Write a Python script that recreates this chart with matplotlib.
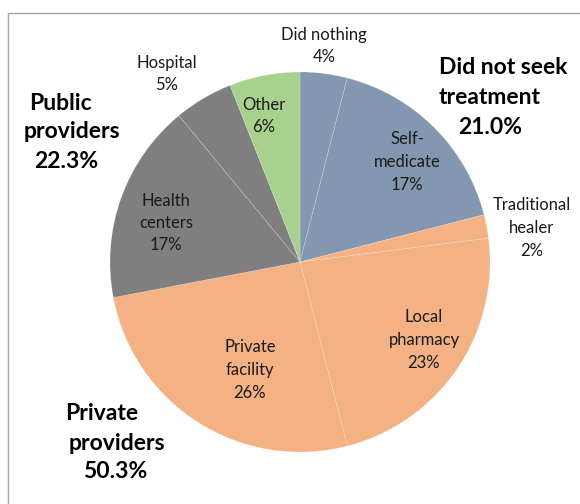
import matplotlib
matplotlib.use("Agg")
import matplotlib.pyplot as plt
from matplotlib.patches import Rectangle

# Care-seeking behaviour, share of respondents (%)
categories = ["Did nothing", "Self-\nmedicate", "Traditional\nhealer", "Local\npharmacy",
              "Private\nfacility", "Health\ncenters", "Hospital", "Other"]
shares = [4, 17, 2, 23, 26, 17, 5, 6]
groups = ["none", "none", "private", "private", "private", "public", "public", "other"]

group_names = ["Did not seek\ntreatment", "Public\nproviders", "Private\nproviders"]
group_shares = [21.0, 22.3, 50.3]

group_colors = {"none": "#8497B0", "private": "#F4B183", "public": "#7F7F7F", "other": "#A9D18E"}

W, H = 580, 504
fig = plt.figure(figsize=(W / 100, H / 100), dpi=100)
plt.rcParams["font.family"] = ["Lato", "DejaVu Sans"]

# outer frame
fig.patches.append(Rectangle((8 / W, -0.1), 1.2, 1 - 13 / H + 0.1, transform=fig.transFigure,
                             fill=False, edgecolor="#A6A6A6", linewidth=1.0))

cx, cy, r = 300, 262, 190
ax = fig.add_axes([(cx - r) / W, 1 - (cy + r) / H, 2 * r / W, 2 * r / H])

ax.pie(shares, colors=[group_colors[g] for g in groups], startangle=90, counterclock=False,
       radius=1.0, center=(0, 0),
       wedgeprops=dict(edgecolor=(1, 1, 1, 0.25), linewidth=0.5))
ax.set_xlim(-1, 1)
ax.set_ylim(-1, 1)
ax.set_aspect("equal")
ax.axis("off")


def P(px, py):
    return (px - cx) / r, (cy - py) / r


# slice labels (pixel positions)
label_pos = [(324, 46), (407, 162), (532, 228), (424, 340),
             (250, 370), (166, 223), (167, 74), (264, 116)]
for name, val, (px, py) in zip(categories, shares, label_pos):
    x, y = P(px, py)
    ax.text(x, y, f"{name}\n{val}%", ha="center", va="center", fontsize=12,
            color="#1a1a1a", linespacing=1.5, clip_on=False)

# group labels
group_lines = [
    [(503, 68), (490, 98), (490, 127)],
    [(60, 103), (72, 132), (66, 161)],
    [(102, 414), (117, 443), (115, 472)],
]
for name, val, lines in zip(group_names, group_shares, group_lines):
    texts = name.split("\n") + [f"{val:.1f}%"]
    for t, (px, py) in zip(texts, lines):
        x, y = P(px, py)
        ax.text(x, y, t, ha="center", va="center", fontsize=16.5, fontweight="bold",
                color="black", clip_on=False)

fig.savefig("out.png", dpi=100)
